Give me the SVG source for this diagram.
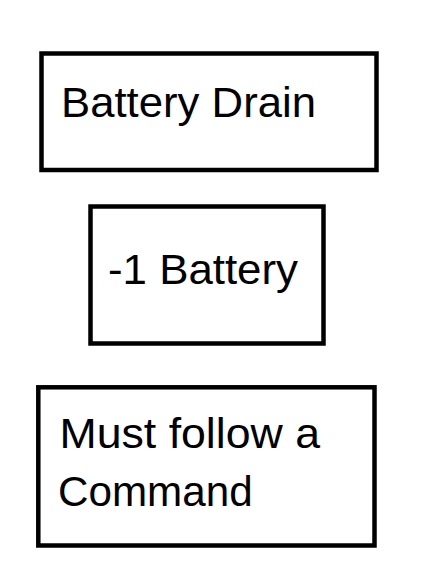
<svg xmlns="http://www.w3.org/2000/svg" width="429" height="587" viewBox="0 0 429 587">
<style>
.box{fill:#fff;stroke:#000;stroke-width:4.5}
.t{font-family:"Liberation Sans",Arial,sans-serif;font-size:42px;fill:#000}
</style>
<rect width="429" height="587" fill="#fff"/>
<g id="node-battery-drain">
<rect class="box" x="41.5" y="53.5" width="335" height="116.5"/>
<text class="t" x="61" y="116.7" textLength="255" lengthAdjust="spacingAndGlyphs">Battery Drain</text>
</g>
<g id="node-minus-one-battery">
<rect class="box" x="90.5" y="206.5" width="233" height="137"/>
<text class="t" x="108" y="284.3" textLength="190" lengthAdjust="spacingAndGlyphs">-1 Battery</text>
</g>
<g id="node-must-follow">
<rect class="box" x="38.3" y="387.3" width="336.2" height="158.2"/>
<text class="t" x="59.5" y="448.3" textLength="260.5" lengthAdjust="spacingAndGlyphs">Must follow a</text>
<text class="t" x="58" y="506" textLength="194.7" lengthAdjust="spacingAndGlyphs">Command</text>
</g>
<g id="connectors"></g>
</svg>
